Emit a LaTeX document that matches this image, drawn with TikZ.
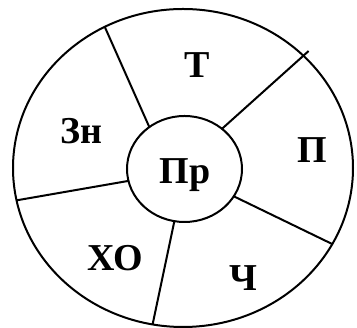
\documentclass[tikz,border=0pt]{standalone}
\usepackage{fontspec}
\setmainfont{Liberation Serif}
\usetikzlibrary{shapes.geometric,positioning}

\begin{document}
\begin{tikzpicture}[x=1pt, y=1pt, line width=2pt,
    ring/.style={draw, ellipse, inner sep=0pt, outer sep=0pt},
    lbl/.style={font=\fontsize{38}{38}\selectfont\bfseries, inner sep=0pt}]
  \useasboundingbox (0,0) rectangle (357,328);
  \node[ring, minimum width=340pt, minimum height=318pt] (outer) at (183,160) {};
  \node[ring, minimum width=115pt, minimum height=106pt] (pr) at (184.5,159) {};
  \node[lbl, anchor=base] (prtext) at (185,144) {Пр};

  \node[lbl] (t) at (197.5,263) {Т};
  \node[lbl] (zn) at (81,197) {Зн};
  \node[lbl] (p) at (312.5,178) {П};
  \node[lbl] (xo) at (115.5,69.5) {ХО};
  \node[lbl] (ch) at (243.5,49.5) {Ч};

  \draw (pr.130) -- (outer.119);
  \draw[shorten >=-7pt] (pr.47) -- (outer.43);
  \draw (pr.-29) -- (outer.-27);
  \draw (pr.259) -- (outer.259);
  \draw (pr.192) -- (outer.191);
\end{tikzpicture}
\end{document}
